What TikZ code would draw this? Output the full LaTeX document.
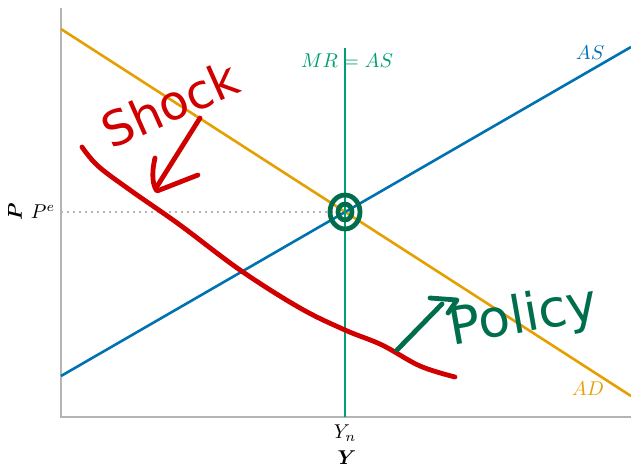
\documentclass[tikz,border=0pt]{standalone}
\usepackage{amsmath,bm}
\usepackage{fontspec}
\newfontfamily\handfont{DejaVu Sans}
\definecolor{adorange}{HTML}{E69F00}
\definecolor{asblue}{HTML}{0072B2}
\definecolor{mrgreen}{HTML}{009E73}
\definecolor{penred}{HTML}{D00000}
\definecolor{pengreen}{HTML}{006E4C}
\definecolor{axisgray}{HTML}{B4B4B4}
\begin{document}
\begin{tikzpicture}[x=0.5pt,y=-0.5pt,
  axis/.style={draw=axisgray, line width=1pt},
  curve/.style={line width=1.3pt},
  pen/.style={line width=2.4pt, line cap=round, line join=round}]
\useasboundingbox (0,0) rectangle (631,466);
% axes
\coordinate (ytop) at (61,8);
\coordinate (origin) at (61,417);
\coordinate (xend) at (631,417);
\draw[axis] (ytop) -- (origin) -- (xend);
% curves
\coordinate (eq) at (345,212);
\coordinate (adstart) at (61,29);
\coordinate (adend) at (631,396);
\coordinate (asstart) at (61,376);
\coordinate (asend) at (631,47);
\coordinate (mrtop) at (345,48);
\coordinate (mrbot) at (345,417);
\coordinate (peaxis) at (61,212);
\draw[axisgray, line width=1pt, dotted] (peaxis) -- (eq);
\draw[curve, adorange] (adstart) -- (adend);
\draw[curve, asblue] (asstart) -- (asend);
\draw[curve, mrgreen] (mrtop) -- (mrbot);
% labels
\node[mrgreen] at (347,61) (mras) {$MR = AS$};
\node[asblue] at (590,53) (aslabel) {$AS$};
\node[adorange] at (588,389) (adlabel) {$AD$};
\node at (43,212) (pe) {$P^e$};
\node at (345,433) (yn) {$Y_n$};
\node at (347,458) (ylabel) {$\bm{Y}$};
\node[rotate=90] at (15,212) (plabel) {$\bm{P}$};
% annotations
\draw[pen, penred] plot[smooth, tension=0.6] coordinates {(82,147) (98,166) (130,190) (180,225) (240,270) (300,308) (345,330) (382,345) (420,366) (455,377)};
\coordinate (shocktail) at (200,118);
\coordinate (shockhead) at (156,188);
\draw[pen, penred] (shocktail) -- (shockhead);
\draw[pen, penred] (155,158) .. controls (151,175) and (153,186) .. (157,191) .. controls (170,186) and (185,180) .. (198,175);
\node[penred, rotate=24, font=\handfont\fontsize{24}{26}\selectfont] at (170,104) (shock) {Shock};
\coordinate (policytail) at (397,350);
\coordinate (policyhead) at (442,304);
\draw[pen, pengreen] (policytail) -- (policyhead);
\draw[pen, pengreen] (430,298) -- (457,300) -- (448,313);
\node[pengreen, rotate=10, font=\handfont\fontsize{26}{28}\selectfont] at (524,318) (policy) {Policy};
\draw[pen, pengreen] (eq) ellipse (15 and 17);
\draw[pen, pengreen] (eq) ellipse (7 and 8);
\end{tikzpicture}
\end{document}
